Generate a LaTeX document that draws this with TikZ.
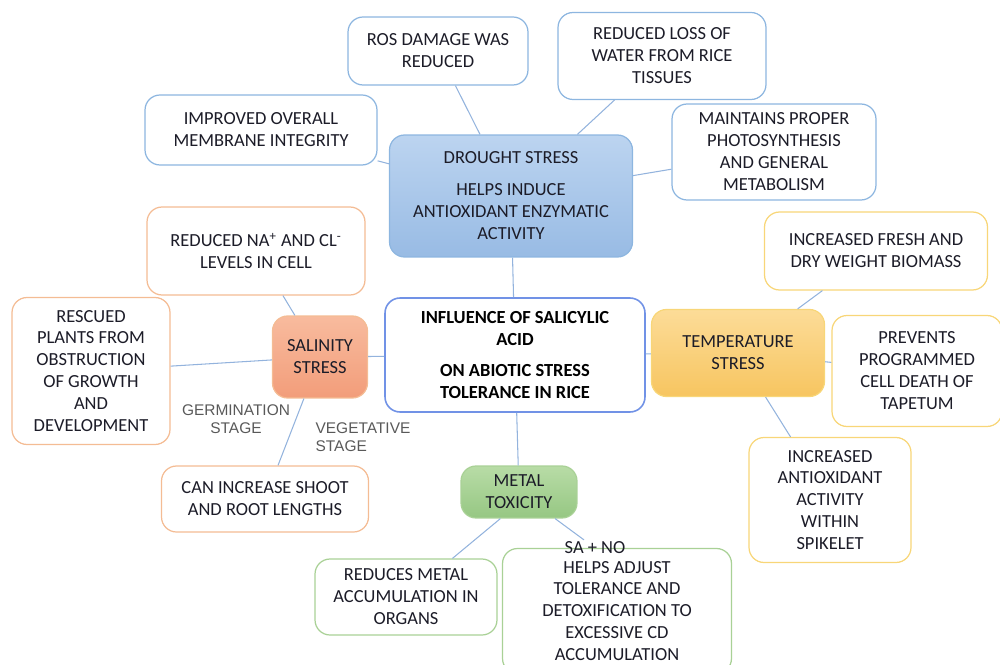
\documentclass[tikz,border=0pt]{standalone}
\usepackage{fontspec}
\setmainfont{Carlito}
\newfontfamily\stagefont{Liberation Sans}
\usepackage{xcolor}

\definecolor{bluedge}{HTML}{8DB6E0}
\definecolor{orangedge}{HTML}{F4BC94}
\definecolor{yellowedge}{HTML}{F8D678}
\definecolor{greenedge}{HTML}{A9D196}
\definecolor{linkblue}{HTML}{93B3DD}
\definecolor{inktext}{HTML}{1C1C28}
\definecolor{droughttop}{HTML}{BCD4F0}
\definecolor{droughtbot}{HTML}{98BBE4}
\definecolor{salttop}{HTML}{F8BB9E}
\definecolor{saltbot}{HTML}{F29D7A}
\definecolor{heattop}{HTML}{FCDC98}
\definecolor{heatbot}{HTML}{F7C560}
\definecolor{metaltop}{HTML}{B8DCA6}
\definecolor{metalbot}{HTML}{96C783}

\tikzset{
	box/.style={rounded corners=0.3cm, draw, line width=0.7pt, align=center, inner sep=2pt,
		font=\fontsize{10.5}{12.5}\selectfont, text=inktext},
	bluebox/.style={box, draw=bluedge, fill=white},
	orangebox/.style={box, draw=orangedge, fill=white},
	yellowbox/.style={box, draw=yellowedge, fill=white},
	greenbox/.style={box, draw=greenedge, fill=white},
	link/.style={draw=linkblue, line width=0.6pt},
	stagelabel/.style={align=left, font=\stagefont\fontsize{8.8}{10.5}\selectfont, text=black!65}
}

\begin{document}
\begin{tikzpicture}[x=0.02cm, y=-0.02cm]
	\useasboundingbox (0,0) rectangle (1000,665);

	% Drought stress and its effects
	\node[bluebox, minimum width=4.86cm, minimum height=2.44cm, top color=droughttop, bottom color=droughtbot, draw=bluedge] (drought) at (511,196)
		{DROUGHT STRESS\\[0.2cm] HELPS INDUCE\\ ANTIOXIDANT ENZYMATIC\\ ACTIVITY};
	\node[bluebox, minimum width=3.6cm, minimum height=1.36cm] (ros) at (438,51) {ROS DAMAGE WAS\\ REDUCED};
	\node[bluebox, minimum width=4.16cm, minimum height=1.74cm] (waterloss) at (662,56) {REDUCED LOSS OF\\ WATER FROM RICE\\ TISSUES};
	\node[bluebox, minimum width=4.64cm, minimum height=1.4cm] (membrane) at (261,130) {IMPROVED OVERALL\\ MEMBRANE INTEGRITY};
	\node[bluebox, minimum width=4.08cm, minimum height=1.92cm] (photo) at (774,152) {MAINTAINS PROPER\\ PHOTOSYNTHESIS\\ AND GENERAL\\ METABOLISM};

	% Centre
	\node[bluebox, draw=bluedge!80!blue, line width=0.9pt, minimum width=5.2cm, minimum height=2.28cm, font=\fontsize{10.5}{12.5}\selectfont\bfseries, text=black] (influence) at (515,355)
		{INFLUENCE OF SALICYLIC\\ ACID\\[0.2cm] ON ABIOTIC STRESS\\ TOLERANCE IN RICE};

	% Salinity stress
	\node[orangebox, minimum width=1.9cm, minimum height=1.64cm, top color=salttop, bottom color=saltbot, draw=orangedge] (salinity) at (320,357) {SALINITY\\ STRESS};
	\node[orangebox, minimum width=4.36cm, minimum height=1.76cm] (ions) at (256,251) {REDUCED NA\textsuperscript{+} AND CL\textsuperscript{-}\\ LEVELS IN CELL};
	\node[orangebox, minimum width=3.16cm, minimum height=2.94cm] (rescued) at (91,371) {RESCUED\\ PLANTS FROM\\ OBSTRUCTION\\ OF GROWTH\\ AND\\ DEVELOPMENT};
	\node[orangebox, minimum width=4.14cm, minimum height=1.32cm] (shoot) at (265,499) {CAN INCREASE SHOOT\\ AND ROOT LENGTHS};
	\node[stagelabel, align=center] (germination) at (236,419) {GERMINATION\\ STAGE};
	\node[stagelabel] (vegetative) at (363,437) {VEGETATIVE\\ STAGE};

	% Temperature stress
	\node[yellowbox, minimum width=3.46cm, minimum height=1.74cm, top color=heattop, bottom color=heatbot, draw=yellowedge] (temperature) at (738,353) {TEMPERATURE\\ STRESS};
	\node[yellowbox, minimum width=4.46cm, minimum height=1.56cm] (biomass) at (876,251) {INCREASED FRESH AND\\ DRY WEIGHT BIOMASS};
	\node[yellowbox, minimum width=3.4cm, minimum height=2.22cm] (tapetum) at (917,371) {PREVENTS\\ PROGRAMMED\\ CELL DEATH OF\\ TAPETUM};
	\node[yellowbox, minimum width=3.24cm, minimum height=2.5cm] (spikelet) at (830,500) {INCREASED\\ ANTIOXIDANT\\ ACTIVITY\\ WITHIN\\ SPIKELET};

	% Metal toxicity
	\node[greenbox, minimum width=2.32cm, minimum height=1.04cm, top color=metaltop, bottom color=metalbot, draw=greenedge] (metal) at (519,492) {METAL\\ TOXICITY};
	\node[greenbox, minimum width=3.64cm, minimum height=1.52cm] (accumulation) at (406,597) {REDUCES METAL\\ ACCUMULATION IN\\ ORGANS};
	\node[greenbox, minimum width=4.58cm, minimum height=2.5cm] (cadmium) at (617,611) {HELPS ADJUST\\ TOLERANCE AND\\ DETOXIFICATION TO\\ EXCESSIVE CD\\ ACCUMULATION};
	\node[font=\fontsize{10.5}{12.5}\selectfont, text=inktext, inner sep=1pt] (sano) at (595,548) {SA + NO};

	% Connectors
	\draw[link] (ros) -- (drought);
	\draw[link] (waterloss) -- (drought);
	\draw[link] (membrane) -- (drought);
	\draw[link] (photo) -- (drought);
	\draw[link] (drought) -- (influence);
	\draw[link] (ions) -- (salinity);
	\draw[link] (rescued) -- (salinity);
	\draw[link] (salinity) -- (influence);
	\draw[link] (salinity) -- (shoot);
	\draw[link] (influence) -- (temperature);
	\draw[link] (biomass) -- (temperature);
	\draw[link] (temperature) -- (tapetum);
	\draw[link] (temperature) -- (spikelet);
	\draw[link] (influence) -- (metal);
	\draw[link] (metal.235) -- (accumulation);
	\draw[link] (metal) -- (sano);
\end{tikzpicture}
\end{document}
